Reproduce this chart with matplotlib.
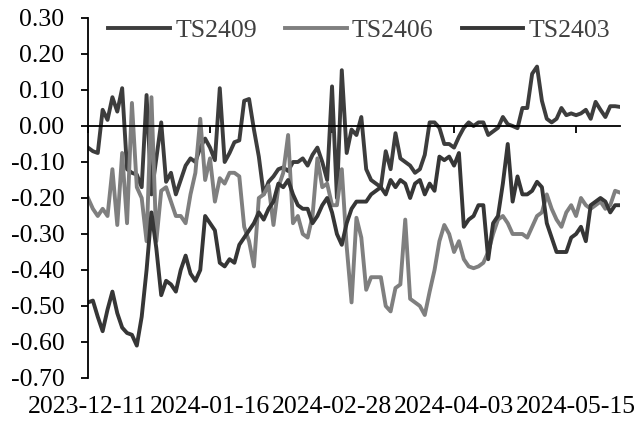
import matplotlib
matplotlib.use("Agg")
import matplotlib.pyplot as plt
import numpy as np

plt.rcParams['font.family'] = ['Liberation Serif', 'DejaVu Serif']
plt.rcParams['axes.unicode_minus'] = False

# trading-day series, 2023-12-11 .. 2024-05-28
ts2409 = [-0.06, -0.07, -0.075, 0.045, 0.017, 0.08, 0.04, 0.105, -0.12, -0.13,
          -0.135, -0.17, 0.086, -0.19, -0.09, 0.01, -0.155, -0.13, -0.19, -0.15,
          -0.11, -0.09, -0.10, -0.06, -0.035, -0.06, -0.095, 0.105, -0.10, -0.075,
          -0.045, -0.04, 0.07, 0.075, -0.01, -0.085, -0.19, -0.155, -0.14, -0.12,
          -0.115, -0.125, -0.10, -0.10, -0.09, -0.11, -0.08, -0.06, -0.10, -0.15,
          0.11, -0.20, 0.155, -0.075, -0.01, -0.025, 0.025, -0.12, -0.15, -0.16,
          -0.17, -0.07, -0.12, -0.02, -0.09, -0.10, -0.11, -0.13, -0.12, -0.08,
          0.01, 0.01, -0.005, -0.05, -0.05, -0.06, -0.03, -0.005, 0.01, 0.0,
          0.01, 0.01, -0.025, -0.015, -0.005, 0.025, 0.005, 0.0, -0.006, 0.05,
          0.05, 0.145, 0.165, 0.07, 0.02, 0.01, 0.02, 0.05, 0.03, 0.035,
          0.03, 0.035, 0.045, 0.02, 0.067, 0.045, 0.025, 0.055, 0.055, 0.053]

ts2406 = [-0.20, -0.23, -0.25, -0.23, -0.25, -0.12, -0.275, -0.075, -0.27, 0.064,
          -0.17, -0.20, -0.32, 0.08, -0.32, -0.18, -0.17, -0.21, -0.25, -0.25,
          -0.27, -0.19, -0.13, 0.02, -0.15, -0.09, -0.21, -0.145, -0.16, -0.13,
          -0.13, -0.14, -0.28, -0.32, -0.39, -0.20, -0.19, -0.165, -0.275, -0.17,
          -0.13, -0.025, -0.27, -0.25, -0.30, -0.31, -0.25, -0.09, -0.17, -0.16,
          -0.22, -0.22, -0.12, -0.335, -0.49, -0.255, -0.31, -0.455, -0.42, -0.42,
          -0.42, -0.50, -0.515, -0.45, -0.44, -0.26, -0.48, -0.49, -0.50, -0.525,
          -0.46, -0.40, -0.32, -0.275, -0.30, -0.35, -0.32, -0.37, -0.39, -0.395,
          -0.39, -0.38, -0.35, -0.30, -0.26, -0.25, -0.27, -0.30, -0.30, -0.30,
          -0.31, -0.28, -0.25, -0.24, -0.19, -0.23, -0.26, -0.28, -0.24, -0.22,
          -0.25, -0.20, -0.22, -0.23, -0.22, -0.21, -0.23, -0.22, -0.18, -0.185]

ts2403 = [-0.49, -0.485, -0.53, -0.57, -0.51, -0.46, -0.52, -0.56, -0.575, -0.58,
          -0.61, -0.53, -0.40, -0.24, -0.34, -0.47, -0.43, -0.44, -0.46, -0.40,
          -0.36, -0.41, -0.43, -0.40, -0.25, -0.27, -0.29, -0.38, -0.39, -0.37,
          -0.38, -0.33, -0.31, -0.29, -0.27, -0.24, -0.26, -0.23, -0.21, -0.16,
          -0.17, -0.15, -0.19, -0.22, -0.23, -0.23, -0.27, -0.25, -0.22, -0.20,
          -0.24, -0.30, -0.33, -0.27, -0.23, -0.21, -0.21, -0.21, -0.19, -0.18,
          -0.17, -0.19, -0.15, -0.17, -0.15, -0.16, -0.20, -0.16, -0.15, -0.19,
          -0.16, -0.18, -0.085, -0.095, -0.085, -0.11, -0.075, -0.28, -0.26, -0.25,
          -0.22, -0.22, -0.37, -0.27, -0.25, -0.16, -0.05, -0.21, -0.14, -0.19,
          -0.19, -0.18, -0.155, -0.17, -0.27, -0.31, -0.35, -0.35, -0.35, -0.31,
          -0.30, -0.28, -0.32, -0.22, -0.21, -0.20, -0.21, -0.24, -0.22, -0.22]

tick_labels = ['2023-12-11', '2024-01-16', '2024-02-28', '2024-04-03', '2024-05-15']
tick_step = 25

x = np.arange(len(ts2409))
ticks = np.arange(len(tick_labels)) * tick_step

fig = plt.figure(figsize=(6.44, 4.23), dpi=100)
ax = fig.add_axes([88 / 644, 45 / 423, 532 / 644, 360 / 423])

ax.plot(x, ts2409, color='#3d3d3d', lw=2.8, label='TS2409')
ax.plot(x, ts2406, color='#7f7f7f', lw=2.8, label='TS2406')
ax.plot(x, ts2403, color='#363636', lw=2.8, label='TS2403')

ax.set_xlim(0, len(x) - 1)
ax.set_ylim(-0.7, 0.3)
ax.set_yticks(np.linspace(-0.7, 0.3, 11).round(2) + 0.0)
ax.yaxis.set_major_formatter(matplotlib.ticker.FuncFormatter(
    lambda v, p: '%.2f' % (round(v, 2) + 0.0)))

for s in ['top', 'right']:
    ax.spines[s].set_visible(False)
ax.spines['bottom'].set_position(('data', 0))
ax.spines['bottom'].set_linewidth(1.3)
ax.spines['left'].set_linewidth(1.3)

ax.set_xticks(ticks)
ax.tick_params(axis='x', direction='out', length=5, width=1.3, labelbottom=False)
ax.tick_params(axis='y', direction='out', length=5, width=1.3, labelsize=18.5, pad=12)

sec = ax.secondary_xaxis('bottom')
sec.set_xticks(ticks, tick_labels)
sec.tick_params(length=0, labelsize=18.5, pad=13)
sec.spines['bottom'].set_visible(False)

ax.legend(loc='upper center', bbox_to_anchor=(0.51, 1.025), ncol=3, frameon=False,
          fontsize=18.5, handlelength=2.4, handletextpad=0.2, columnspacing=1.1,
          borderaxespad=0, labelcolor='#404040')

fig.savefig('out.png', dpi=100)
